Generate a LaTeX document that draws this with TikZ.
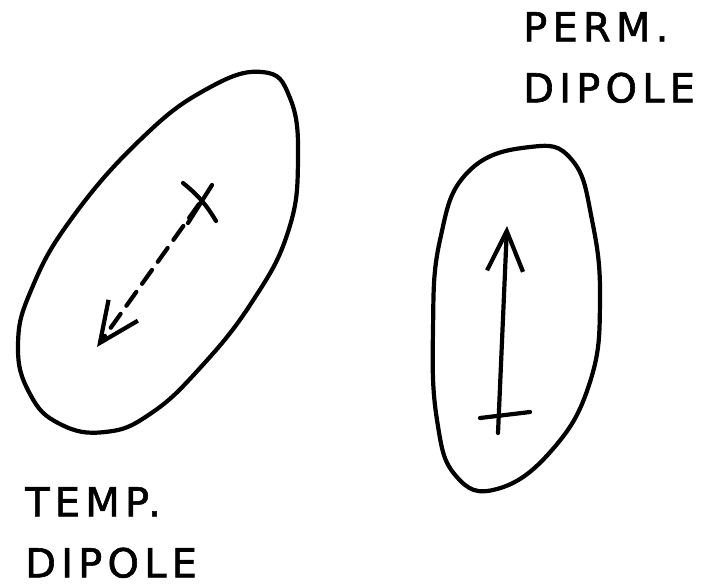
\documentclass[tikz,border=0pt]{standalone}
\usepackage{fontspec}
\setsansfont[FakeBold=1.5]{DejaVu Sans}
\usetikzlibrary{arrows.meta}

\begin{document}
\begin{tikzpicture}[
  x=1pt,y=-1pt,
  outline/.style={line width=4.2pt,line join=round,line cap=round},
  dipole/.style={line width=4.2pt,line cap=round,-{Straight Barb[length=40pt,width=36pt,line width=4.2pt]}},
  tick/.style={line width=4.2pt,line cap=round},
  caption/.style={inner sep=0pt,anchor=north west,align=left,
    font=\sffamily\addfontfeatures{LetterSpace=13}\fontsize{40}{61}\selectfont}
]
  \useasboundingbox (0,0) rectangle (717,587);

  % temporary (induced) dipole
  \draw[outline] plot[smooth cycle,tension=0.75] coordinates {
    (262,72) (290,98) (298,160) (288,232) (252,302) (200,368) (150,414)
    (105,432) (60,424) (30,394) (18,345) (32,288) (72,218) (140,140) (205,90)};
  \coordinate (tempTail) at (199,204);
  \coordinate (tempHead) at (97,347);
  \draw[tick] (183,183) to[bend left=10] (216,221);
  \draw[tick] (212,185) -- (188,223);
  \draw[dipole,dash pattern=on 17pt off 10pt] (tempTail) -- (tempHead);

  % permanent dipole
  \draw[outline] plot[smooth cycle,tension=0.75] coordinates {
    (530,147) (572,160) (592,220) (600,300) (590,382) (552,450) (497,489)
    (456,476) (437,420) (433,330) (440,240) (468,172)};
  \coordinate (permTail) at (498,433);
  \coordinate (permHead) at (507,226);
  \draw[tick] (480,418) -- (530,412);
  \draw[dipole] (permTail) -- (permHead);

  % labels
  \node[caption] (permLabel) at (523,12) {PERM.\\DIPOLE};
  \node[caption] (tempLabel) at (25,487) {TEMP.\\DIPOLE};
\end{tikzpicture}
\end{document}
